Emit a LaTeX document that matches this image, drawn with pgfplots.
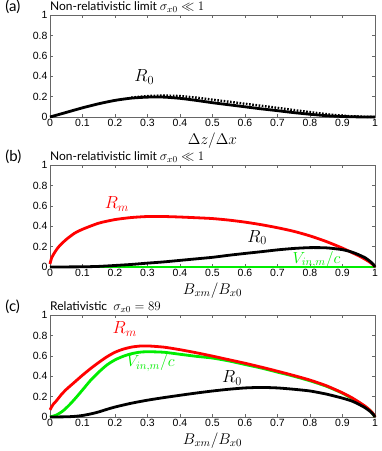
\RequirePackage{fix-cm}
\documentclass[border=0pt]{standalone}
\usepackage[no-math]{fontspec}
\setmainfont{Liberation Sans}
\newfontfamily\gill{Lato}
\usepackage{pgfplots}
\pgfplotsset{compat=1.18}

\definecolor{mgreen}{rgb}{0,0.93,0}

\pgfplotsset{
  panel/.style={
    scale only axis, width=325pt, height=102pt,
    anchor=north west,
    xmin=0, xmax=1, ymin=0, ymax=1,
    xtick={0,0.1,...,1.01}, ytick={0,0.2,...,1.01},
    xticklabels={0,0.1,0.2,0.3,0.4,0.5,0.6,0.7,0.8,0.9,1},
    yticklabels={0,0.2,0.4,0.6,0.8,1},
    tick align=inside, tick pos=both,
    major tick length=3pt,
    axis line style={gray!80!black, line width=0.5pt},
    tick style={gray!80!black, line width=0.4pt},
    tick label style={font=\fontsize{10.5}{11}\selectfont},
    /pgf/number format/assume math mode=true,
    xticklabel style={yshift=1pt},
    yticklabel style={xshift=1pt},
    xlabel style={font=\fontsize{15.5}{16}\selectfont, yshift=-1pt, inner sep=1pt},
    title style={at={(0,1)}, anchor=base west, inner sep=0pt, yshift=-1.5pt, font=\gill\fontsize{12}{13}\selectfont},
    clip=false,
  },
  curve/.style={line width=2.8pt, line join=round, smooth, tension=0.4},
}
\tikzset{
  rlab/.style={font=\fontsize{17.5}{18}\selectfont},
  vlab/.style={font=\fontsize{16}{17}\selectfont},
  plab/.style={font=\gill\fontsize{15}{16}\selectfont, anchor=base west},
}
\newcommand{\tmath}[1]{{\fontsize{13}{14}\selectfont$#1$}}

\begin{document}
\begin{tikzpicture}
\useasboundingbox (0,0) rectangle (382pt,-451pt);

% ---------------- (a)
\begin{axis}[panel, at={(50pt,-15pt)},
  title={Non-relativistic limit \tmath{\sigma_{x0}\ll 1}},
  xlabel={$\Delta z/\Delta x$}]
\addplot[curve, black] coordinates {
 (0,0) (0.05,0.045) (0.1,0.09) (0.15,0.13) (0.2,0.163) (0.25,0.185) (0.3,0.195)
 (0.35,0.195) (0.4,0.183) (0.45,0.163) (0.5,0.14) (0.55,0.12) (0.6,0.1)
 (0.65,0.08) (0.7,0.062) (0.75,0.043) (0.8,0.027) (0.85,0.013) (0.9,0.005)
 (0.95,0.001) (1,0)};
\addplot[black, line width=2.4pt, dash pattern=on 1.6pt off 1.6pt, smooth, tension=0.4] coordinates {
 (0.25,0.19) (0.3,0.205) (0.35,0.21) (0.4,0.205) (0.45,0.19) (0.5,0.17)
 (0.55,0.15) (0.6,0.13) (0.65,0.11) (0.7,0.09) (0.75,0.068) (0.8,0.048)
 (0.85,0.028) (0.9,0.013) (0.95,0.004) (1,0)};
\node[rlab] at (axis cs:0.29,0.39) {$R_0$};
\node[plab] at (rel axis cs:-0.148,1.03) {(a)};
\end{axis}

% ---------------- (b)
\begin{axis}[panel, at={(50pt,-165pt)},
  title={Non-relativistic limit \tmath{\sigma_{x0}\ll 1}},
  xlabel={$B_{xm}/B_{x0}$}]
\addplot[curve, mgreen] coordinates {(0,0) (0.5,0) (1,0)};
\addplot[curve, red] coordinates {
 (0,0.03) (0.005,0.09) (0.01,0.12) (0.02,0.17) (0.03,0.21) (0.05,0.27)
 (0.075,0.33) (0.1,0.37) (0.15,0.43) (0.2,0.465) (0.25,0.485) (0.3,0.495)
 (0.35,0.495) (0.4,0.49) (0.45,0.483) (0.5,0.475) (0.55,0.46) (0.6,0.44)
 (0.65,0.415) (0.7,0.385) (0.75,0.35) (0.8,0.305) (0.85,0.25) (0.9,0.185)
 (0.93,0.14) (0.95,0.11) (0.97,0.075) (0.985,0.045) (0.995,0.02) (1,0)};
\addplot[curve, black] coordinates {
 (0,0) (0.1,0.002) (0.15,0.006) (0.2,0.015) (0.25,0.025) (0.3,0.038)
 (0.35,0.05) (0.4,0.065) (0.45,0.08) (0.5,0.095) (0.55,0.115) (0.6,0.133)
 (0.65,0.15) (0.7,0.168) (0.75,0.182) (0.8,0.19) (0.85,0.188) (0.9,0.17)
 (0.93,0.145) (0.95,0.12) (0.97,0.09) (0.985,0.055) (0.995,0.025) (1,0)};
\node[rlab, red] at (axis cs:0.206,0.62) {$R_m$};
\node[rlab] at (axis cs:0.637,0.29) {$R_0$};
\node[vlab, mgreen] at (axis cs:0.82,0.075) {$V_{in,m}/c$};
\node[plab] at (rel axis cs:-0.148,1.03) {(b)};
\end{axis}

% ---------------- (c)
\begin{axis}[panel, at={(50pt,-315pt)},
  title={Relativistic\ \ \tmath{\sigma_{x0}=89}},
  xlabel={$B_{xm}/B_{x0}$}]
\addplot[curve, mgreen] coordinates {
 (0,0) (0.02,0.02) (0.04,0.06) (0.06,0.12) (0.08,0.19) (0.1,0.265)
 (0.125,0.36) (0.15,0.44) (0.175,0.51) (0.2,0.56) (0.225,0.595) (0.25,0.62)
 (0.275,0.635) (0.3,0.64) (0.35,0.635) (0.4,0.615) (0.45,0.595) (0.5,0.578)
 (0.55,0.55) (0.6,0.515) (0.65,0.48) (0.7,0.44) (0.75,0.4) (0.8,0.355)
 (0.85,0.302) (0.9,0.233) (0.95,0.143) (0.985,0.064) (1,0)};
\addplot[curve, red] coordinates {
 (0,0.07) (0.005,0.1) (0.01,0.125) (0.02,0.16) (0.035,0.22) (0.05,0.27)
 (0.075,0.34) (0.1,0.41) (0.125,0.475) (0.15,0.535) (0.175,0.59) (0.2,0.635)
 (0.225,0.665) (0.25,0.685) (0.275,0.695) (0.3,0.697) (0.35,0.685) (0.4,0.66)
 (0.45,0.63) (0.5,0.597) (0.55,0.562) (0.6,0.527) (0.65,0.489) (0.7,0.449)
 (0.75,0.407) (0.8,0.362) (0.85,0.307) (0.9,0.237) (0.93,0.187) (0.95,0.147)
 (0.97,0.105) (0.985,0.065) (0.995,0.03) (1,0)};
\addplot[curve, black] coordinates {
 (0,0) (0.05,0.002) (0.075,0.006) (0.1,0.015) (0.125,0.03) (0.15,0.05)
 (0.175,0.075) (0.2,0.098) (0.25,0.135) (0.3,0.165) (0.35,0.19) (0.4,0.213)
 (0.45,0.235) (0.5,0.255) (0.55,0.272) (0.6,0.285) (0.65,0.29) (0.7,0.285)
 (0.75,0.272) (0.8,0.255) (0.85,0.225) (0.9,0.185) (0.93,0.155) (0.95,0.125)
 (0.97,0.09) (0.985,0.055) (0.995,0.025) (1,0)};
\node[rlab, red] at (axis cs:0.23,0.86) {$R_m$};
\node[vlab, mgreen] at (axis cs:0.31,0.53) {$V_{in,m}/c$};
\node[rlab] at (axis cs:0.56,0.38) {$R_0$};
\node[plab] at (rel axis cs:-0.148,1.03) {(c)};
\end{axis}
\end{tikzpicture}
\end{document}
